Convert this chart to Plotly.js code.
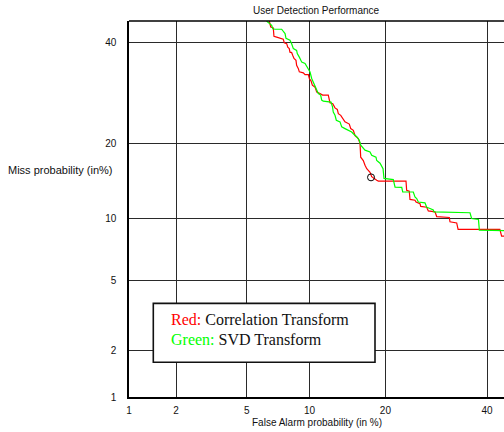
<!DOCTYPE html>
<html>
<head>
<meta charset="utf-8">
<script src="https://cdn.plot.ly/plotly-3.0.1.min.js"></script>
<style>html,body{margin:0;padding:0;background:#fff;}#chart{width:504px;height:432px;}</style>
</head>
<body>
<div id="chart"></div>
<script>
// Data (percent values)
var tickValues = [1, 2, 5, 10, 20, 40];
var tickLabels = ['1', '2', '5', '10', '20', '40'];

var redFA = [6.5, 6.61, 6.80, 6.85, 7.06, 7.46, 7.59, 7.68, 7.88, 7.97, 8.10, 8.16, 8.31, 8.40, 8.52, 8.70, 8.76, 8.92, 9.01, 9.39, 9.56, 9.89, 9.99, 10.16, 10.30, 10.58, 10.76, 11.11, 11.41, 12.05, 12.25, 12.58, 12.85, 13.13, 13.26, 13.56, 13.88, 14.10, 14.67, 14.86, 15.21, 15.44, 15.90, 16.14, 16.24, 16.61, 16.86, 17.11, 17.60, 17.85, 18.62, 18.87, 23.50, 23.62, 24.09, 24.22, 25.13, 25.32, 26.07, 26.20, 27.34, 27.65, 28.96, 29.30, 31.86, 32.0, 33.4, 33.7, 42.9, 43.3, 46];
var redMiss = [45, 43.6, 43.4, 41.5, 41.3, 40.9, 40.8, 40.0, 39.8, 39.0, 38.7, 37.9, 37.8, 37.2, 36.5, 36.1, 35.0, 34.3, 33.6, 33.4, 33.0, 33.0, 32.2, 31.7, 30.8, 30.4, 29.4, 29.1, 28.8, 28.8, 27.3, 27.1, 26.3, 26.0, 25.2, 24.9, 24.3, 23.7, 23.3, 22.5, 22.2, 21.3, 20.8, 20.0, 17.8, 17.3, 16.6, 16.1, 15.6, 15.0, 14.5, 14.4, 14.4, 13.2, 13.1, 12.1, 12.0, 11.8, 11.6, 11.3, 11.2, 10.8, 10.7, 10.2, 10.1, 9.66, 9.55, 8.92, 8.92, 8.30, 8.30];

var greenFA = [6.3, 6.55, 6.68, 6.76, 6.93, 7.46, 7.59, 7.74, 7.82, 8.16, 8.31, 8.46, 8.76, 8.82, 9.01, 9.24, 9.56, 9.79, 9.99, 10.06, 10.23, 10.40, 10.58, 10.76, 10.93, 11.19, 11.30, 11.48, 12.37, 12.55, 12.64, 12.85, 13.01, 13.47, 13.68, 14.10, 14.99, 15.21, 15.67, 16.04, 16.24, 16.86, 17.60, 17.85, 18.51, 18.62, 19.14, 19.62, 19.77, 21.30, 21.42, 21.6, 22.75, 22.92, 24.82, 25.13, 25.45, 25.75, 27.01, 27.34, 27.98, 28.63, 28.76, 36.25, 36.6, 38.1, 38.3, 42.9, 43.3, 46];
var greenMiss = [45, 44.2, 44.0, 43.2, 43.1, 43.1, 42.5, 42.1, 41.0, 40.6, 39.8, 38.7, 38.3, 37.6, 36.8, 35.7, 35.4, 34.6, 33.9, 33.6, 32.2, 31.5, 30.8, 29.8, 29.1, 28.8, 27.8, 27.6, 27.4, 26.5, 25.5, 24.9, 24.0, 23.7, 22.8, 22.5, 21.9, 21.6, 21.1, 20.5, 19.7, 18.9, 18.6, 18.1, 17.8, 17.3, 16.9, 16.1, 14.75, 14.6, 14.1, 13.6, 13.57, 13.0, 13.0, 12.4, 12.2, 11.8, 11.7, 11.2, 11.06, 10.9, 10.7, 10.6, 10.0, 9.9, 8.86, 8.86, 8.8, 8.8];

var markFA = [17.75];
var markMiss = [14.9];

// inverse normal CDF (Acklam) -> probit (DET) scale
function probit(p) {
  var a = [-3.969683028665376e+01, 2.209460984245205e+02, -2.759285104469687e+02, 1.383577518672690e+02, -3.066479806614716e+01, 2.506628277459239e+00];
  var b = [-5.447609879822406e+01, 1.615858368580409e+02, -1.556989798598866e+02, 6.680131188771972e+01, -1.328068155288572e+01];
  var c = [-7.784894002430293e-03, -3.223964580411365e-01, -2.400758277161838e+00, -2.549732539343734e+00, 4.374664141464968e+00, 2.938163982698783e+00];
  var d = [7.784695709041462e-03, 3.224671290700398e-01, 2.445134137142996e+00, 3.754408661907416e+00];
  var pl = 0.02425, q, r;
  if (p < pl) {
    q = Math.sqrt(-2 * Math.log(p));
    return (((((c[0]*q+c[1])*q+c[2])*q+c[3])*q+c[4])*q+c[5]) / ((((d[0]*q+d[1])*q+d[2])*q+d[3])*q+1);
  } else if (p <= 1 - pl) {
    q = p - 0.5; r = q * q;
    return (((((a[0]*r+a[1])*r+a[2])*r+a[3])*r+a[4])*r+a[5])*q / (((((b[0]*r+b[1])*r+b[2])*r+b[3])*r+b[4])*r+1);
  } else {
    q = Math.sqrt(-2 * Math.log(1 - p));
    return -(((((c[0]*q+c[1])*q+c[2])*q+c[3])*q+c[4])*q+c[5]) / ((((d[0]*q+d[1])*q+d[2])*q+d[3])*q+1);
  }
}
function toProbit(arr) { return arr.map(function (v) { return probit(v / 100); }); }

var traces = [
  { x: toProbit(redFA), y: toProbit(redMiss), mode: 'lines', line: { color: '#ff0000', width: 1.2 }, hoverinfo: 'skip' },
  { x: toProbit(greenFA), y: toProbit(greenMiss), mode: 'lines', line: { color: '#00ff00', width: 1.2 }, hoverinfo: 'skip' },
  { x: toProbit(markFA), y: toProbit(markMiss), mode: 'markers', marker: { symbol: 'circle-open', size: 7, color: '#000', line: { width: 1, color: '#000' } }, hoverinfo: 'skip' }
];

var lo = probit(0.01);
var axisFont = { family: 'Liberation Sans, Arial, sans-serif', size: 10, color: '#111' };

var layout = {
  width: 504, height: 432,
  margin: { l: 129, r: 0, t: 21, b: 35, pad: 0 },
  paper_bgcolor: '#fff', plot_bgcolor: '#fff',
  showlegend: false,
  title: { text: 'User Detection Performance', font: { family: 'Liberation Sans, Arial, sans-serif', size: 10, color: '#111' }, x: 0.627, xanchor: 'center', y: 0.976, yanchor: 'middle' },
  xaxis: {
    range: [lo, lo + 375 / 172.7],
    tickvals: toProbit(tickValues), ticktext: tickLabels,
    showgrid: true, gridcolor: '#2a2a2a', gridwidth: 1,
    zeroline: false, showline: true, linecolor: '#000', linewidth: 1.6, mirror: false,
    ticks: '', ticklabelstandoff: 3, tickfont: axisFont, fixedrange: true
  },
  yaxis: {
    range: [lo, probit(0.45)],
    tickvals: toProbit(tickValues), ticktext: tickLabels,
    showgrid: true, gridcolor: '#2a2a2a', gridwidth: 1,
    zeroline: false, showline: true, linecolor: '#000', linewidth: 1.6, mirror: false,
    ticks: '', ticklabelstandoff: 9, tickfont: axisFont, fixedrange: true
  },
  shapes: [
    { type: 'line', xref: 'paper', yref: 'paper', x0: 0, x1: 1, y0: 1, y1: 1,
      line: { color: '#000', width: 1.6 }, layer: 'above' },
    { type: 'rect', xref: 'paper', yref: 'paper', x0: 0.0648, x1: 0.656, y0: 0.0923, y1: 0.249,
      fillcolor: '#fff', line: { color: '#111', width: 1.6 }, layer: 'above' }
  ],
  annotations: [
    { xref: 'paper', yref: 'paper', x: 0.1067, y: 0.2048, xanchor: 'left', yanchor: 'middle', showarrow: false,
      text: '<span style="color:#ff0000">Red:</span> Correlation Transform',
      font: { family: 'Liberation Serif, Times New Roman, serif', size: 16, color: '#111' } },
    { xref: 'paper', yref: 'paper', x: 0.1067, y: 0.1516, xanchor: 'left', yanchor: 'middle', showarrow: false,
      text: '<span style="color:#00ff00">Green:</span> SVD Transform',
      font: { family: 'Liberation Serif, Times New Roman, serif', size: 16, color: '#111' } },
    { xref: 'paper', yref: 'paper', x: 0.5, y: -0.067, xanchor: 'center', yanchor: 'middle', showarrow: false,
      text: 'False Alarm probability (in %)', font: axisFont },
    { xref: 'paper', yref: 'paper', x: -0.328, y: 0.604, xanchor: 'left', yanchor: 'middle', showarrow: false,
      text: 'Miss probability (in%)', font: { family: 'Liberation Sans, Arial, sans-serif', size: 11, color: '#111' } }
  ]
};

Plotly.newPlot('chart', traces, layout, { staticPlot: true, displayModeBar: false });
</script>
</body>
</html>
